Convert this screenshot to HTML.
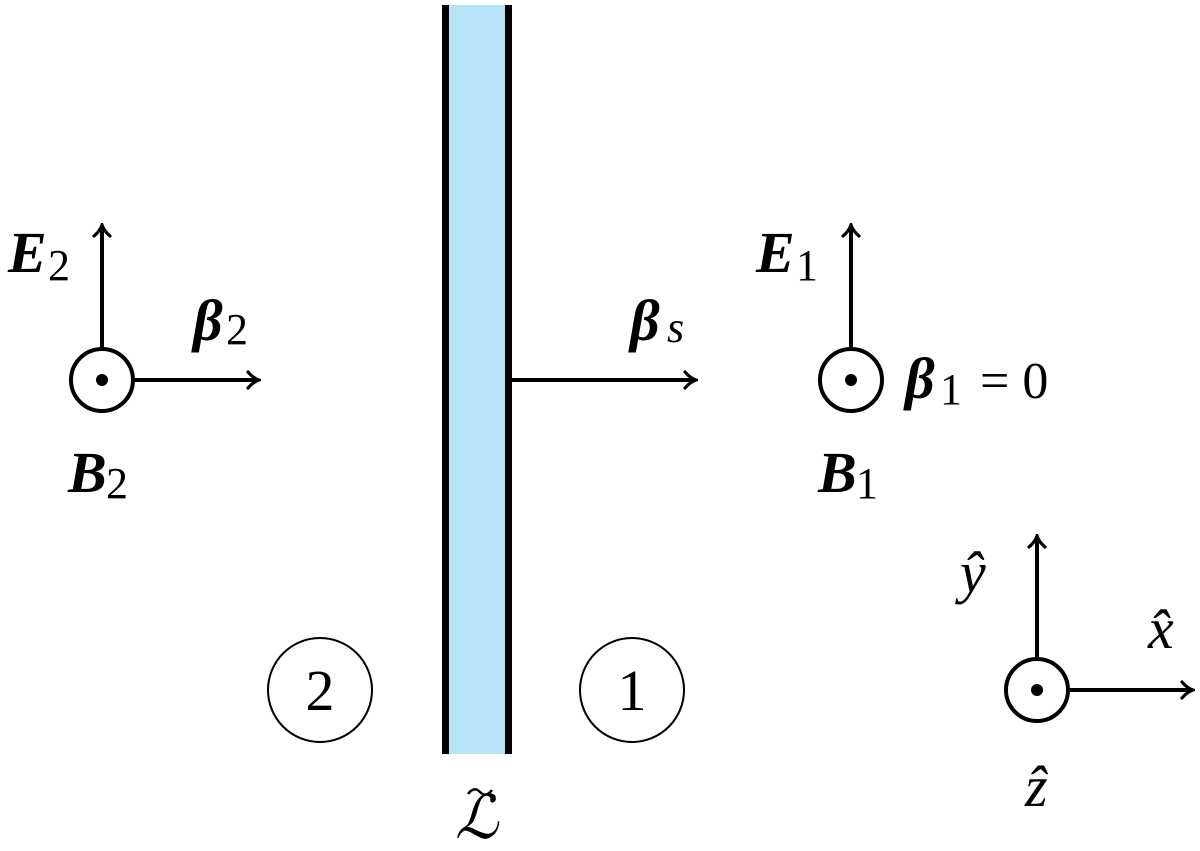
<!DOCTYPE html>
<html><head><meta charset="utf-8"><style>html,body{margin:0;padding:0;background:#fff;}svg{display:block}
text{font-family:"Liberation Serif","Times New Roman",serif;}</style></head>
<body>
<svg width="1200" height="851" viewBox="0 0 1200 851" xmlns="http://www.w3.org/2000/svg">
<defs>
<marker id="a" viewBox="0 0 20 20" refX="17" refY="10" markerWidth="20" markerHeight="20" markerUnits="userSpaceOnUse" orient="auto">
<path d="M7,2 Q12,8 18,10 Q12,12 7,18" fill="none" stroke="#000" stroke-width="3.2" stroke-linecap="round"/>
</marker>
</defs>
<rect x="445" y="5" width="63" height="749" fill="#b8e4f8"/>
<line x1="445.5" y1="5" x2="445.5" y2="754" stroke="#000" stroke-width="7"/>
<line x1="508.5" y1="5" x2="508.5" y2="754" stroke="#000" stroke-width="7"/>
<g stroke="#000" stroke-width="4" fill="none">
<line x1="102" y1="349" x2="102" y2="226" marker-end="url(#a)"/>
<line x1="133" y1="380" x2="258" y2="380" marker-end="url(#a)"/>
<circle cx="102" cy="380" r="31"/>
<line x1="511" y1="380" x2="695" y2="380" marker-end="url(#a)"/>
<line x1="851" y1="349" x2="851" y2="226" marker-end="url(#a)"/>
<circle cx="851" cy="380" r="31"/>
<line x1="1037" y1="659" x2="1037" y2="537" marker-end="url(#a)"/>
<line x1="1068" y1="690" x2="1192" y2="690" marker-end="url(#a)"/>
<circle cx="1037" cy="690" r="31"/>
</g>
<circle cx="102" cy="380" r="6"/>
<circle cx="851" cy="380" r="6"/>
<circle cx="1037" cy="690" r="6"/>
<g fill="none" stroke="#000" stroke-width="2">
<circle cx="320" cy="690" r="52"/>
<circle cx="632" cy="690" r="52"/>
</g>
<g font-size="58">
<text x="8" y="272" font-weight="bold" font-style="italic">E</text><text x="48" y="280" font-size="44">2</text>
<text x="193" y="340" font-weight="bold" font-style="italic">β</text><text x="226" y="344" font-size="44">2</text>
<text x="68" y="492" font-weight="bold" font-style="italic">B</text><text x="106" y="498" font-size="44">2</text>
<text x="630" y="340" font-weight="bold" font-style="italic">β</text><text x="667" y="342" font-size="44" font-style="italic">s</text>
<text x="756" y="272" font-weight="bold" font-style="italic">E</text><text x="796" y="280" font-size="44">1</text>
<text x="905" y="398" font-weight="bold" font-style="italic">β</text><text x="940" y="404" font-size="44">1</text><text x="980" y="398" font-size="52">= 0</text>
<text x="818" y="492" font-weight="bold" font-style="italic">B</text><text x="856" y="498" font-size="44">1</text>
<text x="960" y="592" font-style="italic">ŷ</text>
<text x="1148" y="648" font-style="italic">x̂</text>
<text x="1025" y="806" font-style="italic">ẑ</text>
<text x="455" y="838" font-style="italic" font-size="60">ℒ</text>
<path d="M468,794 Q474,786 480,792 Q486,798 492,790" fill="none" stroke="#000" stroke-width="2.5"/>
<text x="320" y="710" text-anchor="middle" font-size="58">2</text>
<text x="632" y="710" text-anchor="middle" font-size="58">1</text>
</g>
</svg>
</body></html>
